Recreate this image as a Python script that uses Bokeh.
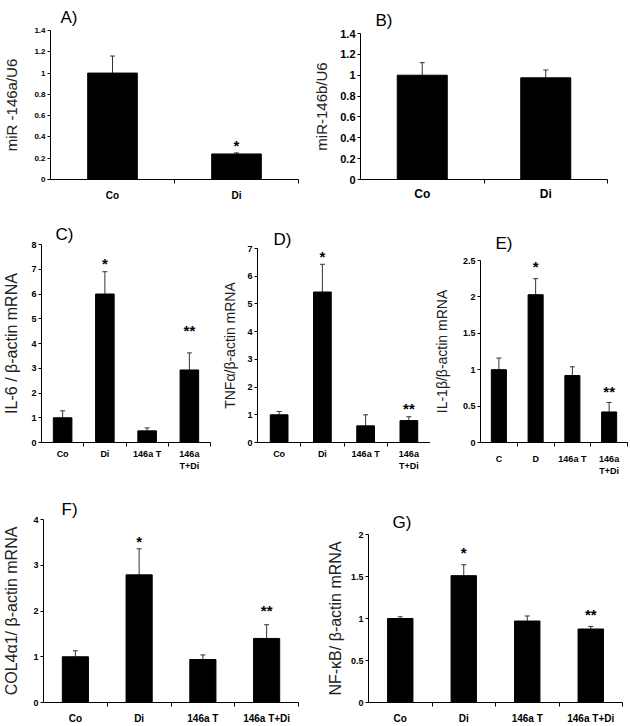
import numpy as np
from bokeh.plotting import figure
from bokeh.models import ColumnDataSource, Range1d, FixedTicker, Whisker, TeeHead
from bokeh.layouts import row, column
from bokeh.core.properties import value
from bokeh.embed import file_html
from bokeh.resources import INLINE

FONT = "Liberation Sans"

# ---------------- data ----------------
a_cats = ["Co", "Di"]
a_vals = [1.00, 0.24]
a_sd = [0.16, 0.01]
a_sig = ["", "*"]
a_sig_y = [np.nan, 0.355]
a_yticks = [0, 0.2, 0.4, 0.6, 0.8, 1.0, 1.2, 1.4]

b_cats = ["Co", "Di"]
b_vals = [1.00, 0.975]
b_sd = [0.12, 0.075]
b_sig = ["", ""]
b_sig_y = [np.nan, np.nan]
b_yticks = [0, 0.2, 0.4, 0.6, 0.8, 1.0, 1.2, 1.4]

c_cats = ["Co", "Di", "146a T", "146a\nT+Di"]
c_vals = [1.00, 6.00, 0.47, 2.93]
c_sd = [0.28, 0.90, 0.12, 0.69]
c_sig = ["", "*", "", "**"]
c_sig_y = [np.nan, 7.4, np.nan, 4.7]
c_yticks = [0, 1, 2, 3, 4, 5, 6, 7, 8]

d_cats = ["Co", "Di", "146a T", "146a\nT+Di"]
d_vals = [1.00, 5.43, 0.60, 0.79]
d_sd = [0.12, 1.00, 0.40, 0.14]
d_sig = ["", "*", "", "**"]
d_sig_y = [np.nan, 6.85, np.nan, 1.36]
d_yticks = [0, 1, 2, 3, 4, 5, 6, 7]

e_cats = ["C", "D", "146a T", "146a\nT+Di"]
e_vals = [1.00, 2.03, 0.92, 0.42]
e_sd = [0.16, 0.22, 0.12, 0.13]
e_sig = ["", "*", "", "**"]
e_sig_y = [np.nan, 2.47, np.nan, 0.75]
e_yticks = [0, 0.5, 1.0, 1.5, 2.0, 2.5]

f_cats = ["Co", "Di", "146a T", "146a T+Di"]
f_vals = [1.00, 2.79, 0.94, 1.40]
f_sd = [0.13, 0.57, 0.10, 0.30]
f_sig = ["", "*", "", "**"]
f_sig_y = [np.nan, 3.6, np.nan, 2.1]
f_yticks = [0, 1, 2, 3, 4]

g_cats = ["Co", "Di", "146a T", "146a T+Di"]
g_vals = [1.00, 1.51, 0.97, 0.875]
g_sd = [0.02, 0.13, 0.06, 0.03]
g_sig = ["", "*", "", "**"]
g_sig_y = [np.nan, 1.83, np.nan, 1.09]
g_yticks = [0, 0.5, 1.0, 1.5, 2.0]


def panel(cats, vals, sd, sig, sig_y, yticks, ylabel, title, width, height,
          left, right, top, bottom, bar_w, tick_font, cat_font, ylab_font,
          ylab_standoff, cat_standoff, title_offset, title_standoff,
          title_font="17px", star_font="15px"):
    n = len(cats)
    x = [i + 0.5 for i in range(n)]
    err = [v + s for v, s in zip(vals, sd)]
    src = ColumnDataSource(dict(x=x, top=vals, err=err))
    p = figure(width=width, height=height, x_range=Range1d(0, n),
               y_range=Range1d(0, yticks[-1]), output_backend="svg",
               toolbar_location=None, min_border_left=left,
               min_border_right=right, min_border_top=top,
               min_border_bottom=bottom)
    p.frame_align = False
    p.vbar(x="x", top="top", bottom=0, width=bar_w, source=src,
           fill_color="black", line_color="black")
    p.add_layout(Whisker(source=src, base="x", upper="err", lower="top",
                         upper_head=TeeHead(size=5, line_color="#333", line_width=1),
                         lower_head=None, line_color="#333", line_width=1))
    ssrc = ColumnDataSource(dict(x=x, y=sig_y, t=sig))
    p.text(x="x", y="y", text="t", source=ssrc, text_align="center",
           text_baseline="middle", text_font=value(FONT),
           text_font_size=star_font, text_font_style="bold",
           text_color="black", y_offset=4)

    xa = p.xaxis[0]
    xa.ticker = FixedTicker(ticks=x, minor_ticks=list(range(1, n + 1)))
    xa.major_label_overrides = {xi: c for xi, c in zip(x, cats)}
    xa.major_tick_out = 0
    xa.major_tick_in = 0
    xa.minor_tick_out = 4
    xa.minor_tick_in = 0
    xa.major_label_text_font = FONT
    xa.major_label_text_font_size = cat_font
    xa.major_label_text_font_style = "bold"
    xa.major_label_text_color = "black"
    xa.major_label_standoff = cat_standoff
    xa.axis_line_color = "black"
    xa.minor_tick_line_color = "black"

    ya = p.yaxis[0]
    ya.ticker = FixedTicker(ticks=yticks)
    ya.major_label_overrides = {t: f"{t:g}" for t in yticks}
    ya.major_tick_out = 3
    ya.major_tick_in = 0
    ya.minor_tick_out = 0
    ya.minor_tick_in = 0
    ya.major_label_standoff = 2
    ya.major_label_text_font = FONT
    ya.major_label_text_font_size = tick_font
    ya.major_label_text_font_style = "bold"
    ya.major_label_text_color = "black"
    ya.axis_line_color = "black"
    ya.major_tick_line_color = "black"
    ya.axis_label = ylabel
    ya.axis_label_text_font = FONT
    ya.axis_label_text_font_size = ylab_font
    ya.axis_label_text_font_style = "normal"
    ya.axis_label_text_color = "#222"
    ya.axis_label_standoff = ylab_standoff

    p.xgrid.visible = False
    p.ygrid.visible = False
    p.outline_line_color = None
    p.background_fill_color = "white"
    p.border_fill_color = "white"

    p.title.text = title
    p.title.align = "left"
    p.title.offset = title_offset
    p.title.standoff = title_standoff
    p.title.text_font = FONT
    p.title.text_font_size = title_font
    p.title.text_font_style = "normal"
    p.title.text_color = "black"
    return p


pA = panel(a_cats, a_vals, a_sd, a_sig, a_sig_y, a_yticks, "miR -146a/U6", "A)",
           310, 210, 45, 12, 30, 31, 0.40, "8px", "10px", "15px", 11, 6, 10, 7)
pB = panel(b_cats, b_vals, b_sd, b_sig, b_sig_y, b_yticks, "miR-146b/U6", "B)",
           320, 210, 45, 23, 33, 31, 0.405, "11px", "12px", "15px", 7, 3, 15, 8)
pC = panel(c_cats, c_vals, c_sd, c_sig, c_sig_y, c_yticks, "IL-6 / β-actin mRNA", "C)",
           215, 285, 36, 5, 34, 53, 0.44, "9px", "9px", "16px", 8, 2, 14, 2)
pD = panel(d_cats, d_vals, d_sd, d_sig, d_sig_y, d_yticks, "TNFα/β-actin mRNA", "D)",
           215, 285, 42, 0, 38, 53, 0.41, "9px", "9px", "14px", 6, 2, 16, 0)
pE = panel(e_cats, e_vals, e_sd, e_sig, e_sig_y, e_yticks, "IL-1β/β-actin mRNA", "E)",
           200, 285, 47, 3, 50, 53, 0.41, "9px", "9px", "14px", 10, 7, 15, 15)
pF = panel(f_cats, f_vals, f_sd, f_sig, f_sig_y, f_yticks, "COL4α1/ β-actin mRNA", "F)",
           310, 231, 42, 12, 24, 18, 0.41, "9px", "10px", "16px", 10, 6, 18, 1)
pG = panel(g_cats, g_vals, g_sd, g_sig, g_sig_y, g_yticks, "NF-κB/ β-actin mRNA", "G)",
           320, 231, 58, 8, 39, 18, 0.40, "9px", "10px", "16px", 4, 6, 24, 5)

layout = column(row(pA, pB), row(pC, pD, pE), row(pF, pG))

open("out.html", "w").write(file_html(layout, INLINE))
